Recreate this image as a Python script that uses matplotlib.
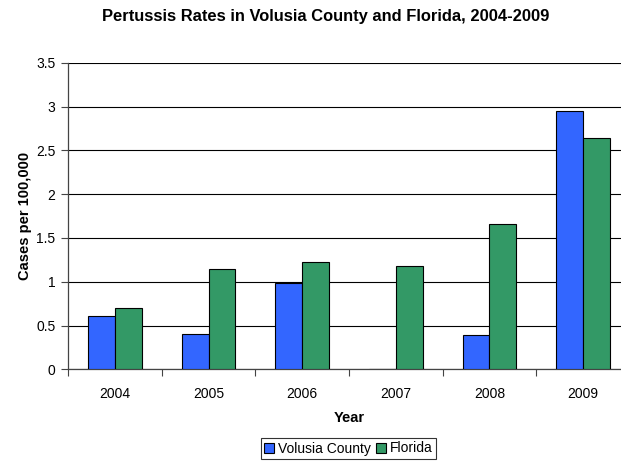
import numpy as np
import matplotlib
matplotlib.use("Agg")
import matplotlib.pyplot as plt

plt.rcParams['font.family'] = ['Liberation Sans', 'DejaVu Sans']

years = ['2004', '2005', '2006', '2007', '2008', '2009']
volusia = [0.61, 0.40, 0.99, 0.0, 0.39, 2.95]
florida = [0.70, 1.15, 1.23, 1.18, 1.66, 2.64]

blue = '#3366FF'
green = '#339966'

fig = plt.figure(figsize=(6.21, 4.62), dpi=100)
# plot area runs a bit past the right edge, as in the original
ax = fig.add_axes([68 / 621, 92.7 / 462, 562 / 621, 306.6 / 462])

x = np.arange(len(years))
w = 0.285
ax.bar(x - w / 2, volusia, w, color=blue, edgecolor='black', linewidth=0.8,
       label='Volusia County', zorder=3)
ax.bar(x + w / 2, florida, w, color=green, edgecolor='black', linewidth=0.8,
       label='Florida', zorder=3)

ax.set_xlim(-0.5, len(years) - 0.5)
ax.set_ylim(0, 3.5)
ax.set_yticks(np.arange(0, 3.51, 0.5))
ax.set_yticklabels(['0', '0.5', '1', '1.5', '2', '2.5', '3', '3.5'])
ax.yaxis.grid(True, color='black', linewidth=0.8, zorder=0)

# ticks between categories, labels at category centres
ax.set_xticks(np.arange(-0.5, len(years), 1.0))
ax.set_xticklabels([])
ax.set_xticks(x, minor=True)
ax.set_xticklabels(years, minor=True)
ax.tick_params(axis='x', which='major', length=5, width=0.8, color='#444444')
ax.tick_params(axis='x', which='minor', length=0, pad=13, labelsize=10)
ax.tick_params(axis='y', length=5, width=0.8, color='#444444', pad=4, labelsize=10)

for s in ['top', 'right']:
    ax.spines[s].set_visible(False)
for s in ['left', 'bottom']:
    ax.spines[s].set_color('#444444')
    ax.spines[s].set_linewidth(0.9)

ax.set_ylabel('Cases per 100,000', fontsize=10.5, fontweight='bold', labelpad=3)
ax.set_xlabel('Year', fontsize=10.5, fontweight='bold', labelpad=7)

fig.text(326 / 621, 1 - 17 / 462, 'Pertussis Rates in Volusia County and Florida, 2004-2009',
         ha='center', va='center', fontsize=11.9, fontweight='bold')

leg = fig.legend(loc='center', bbox_to_anchor=(348.5 / 621, 1 - 448.5 / 462), ncol=2,
                 fontsize=10, frameon=True, fancybox=False, edgecolor='black',
                 handlelength=0.7, handleheight=0.7, handletextpad=0.3,
                 columnspacing=0.4, borderpad=0.25, borderaxespad=0)
leg.get_frame().set_linewidth(0.8)

fig.savefig('out.png', dpi=100)
